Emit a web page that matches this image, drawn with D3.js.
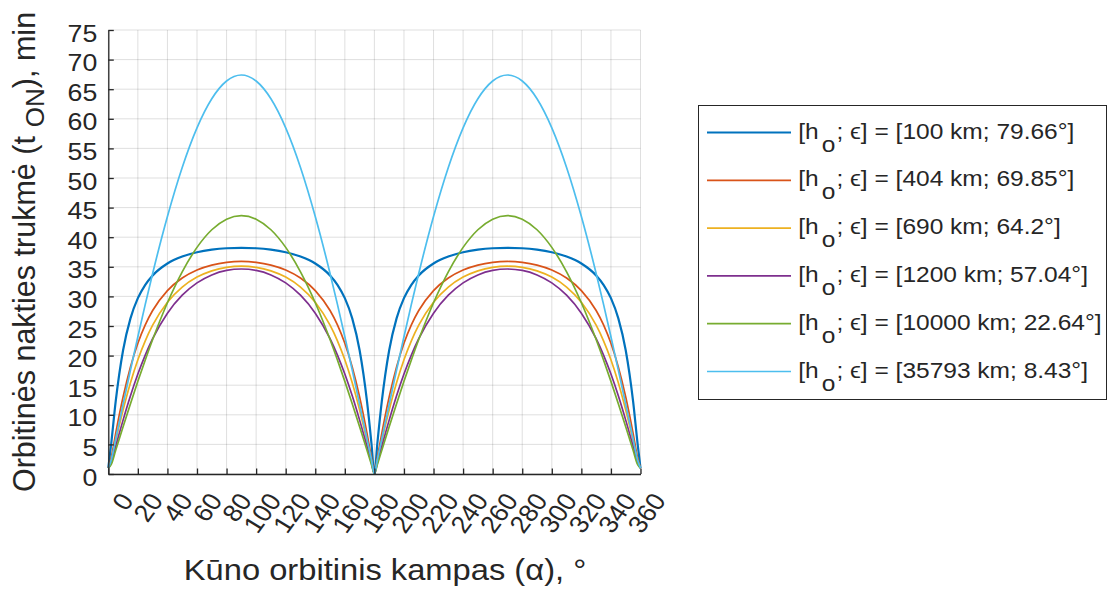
<!DOCTYPE html>
<html>
<head>
<meta charset="utf-8">
<script src="https://cdn.jsdelivr.net/npm/d3@7"></script>
<style>
  body { margin: 0; background: #fff; }
  svg { display: block; }
  text { font-family: "Liberation Sans", Arial, Helvetica, sans-serif; fill: #262626; }
</style>
</head>
<body>
<svg id="chart" width="1112" height="591"></svg>
<script>
// Orbital angle of the body, degrees
const alpha = [0, 2, 5, 10, 15, 20, 25, 30, 40, 50, 60, 70, 80, 90, 100, 110, 120, 130, 140, 150, 155, 160, 165, 170, 175, 178, 180,
  182, 185, 190, 195, 200, 205, 210, 220, 230, 240, 250, 260, 270, 280, 290, 300, 310, 320, 330, 335, 340, 345, 350, 355, 358, 360];

// Orbital night duration, minutes, one array per orbit
const night100 = [1.0, 5.19, 12.25, 20.90, 26.29, 29.70, 31.96, 33.54, 35.56, 36.73, 37.45, 37.89, 38.13, 38.20, 38.13, 37.89, 37.45, 36.73, 35.56, 33.54, 31.96, 29.70, 26.29, 20.90, 12.25, 5.19, 0,
  5.19, 12.25, 20.90, 26.29, 29.70, 31.96, 33.54, 35.56, 36.73, 37.45, 37.89, 38.13, 38.20, 38.13, 37.89, 37.45, 36.73, 35.56, 33.54, 31.96, 29.70, 26.29, 20.90, 12.25, 5.19, 1.0];
const night404 = [1.0, 2.79, 6.87, 13.01, 18.09, 22.10, 25.20, 27.61, 30.98, 33.10, 34.46, 35.29, 35.75, 35.90, 35.75, 35.29, 34.46, 33.10, 30.98, 27.61, 25.20, 22.10, 18.09, 13.01, 6.87, 2.79, 0,
  2.79, 6.87, 13.01, 18.09, 22.10, 25.20, 27.61, 30.98, 33.10, 34.46, 35.29, 35.75, 35.90, 35.75, 35.29, 34.46, 33.10, 30.98, 27.61, 25.20, 22.10, 18.09, 13.01, 6.87, 2.79, 1.0];
const night690 = [1.0, 2.26, 5.59, 10.80, 15.40, 19.29, 22.50, 25.13, 29.01, 31.57, 33.26, 34.32, 34.91, 35.10, 34.91, 34.32, 33.26, 31.57, 29.01, 25.13, 22.50, 19.29, 15.40, 10.80, 5.59, 2.26, 0,
  2.26, 5.59, 10.80, 15.40, 19.29, 22.50, 25.13, 29.01, 31.57, 33.26, 34.32, 34.91, 35.10, 34.91, 34.32, 33.26, 31.57, 29.01, 25.13, 22.50, 19.29, 15.40, 10.80, 5.59, 2.26, 1.0];
const night1200 = [1.0, 1.87, 4.65, 9.10, 13.21, 16.88, 20.09, 22.85, 27.17, 30.20, 32.28, 33.63, 34.39, 34.63, 34.39, 33.63, 32.28, 30.20, 27.17, 22.85, 20.09, 16.88, 13.21, 9.10, 4.65, 1.87, 0,
  1.87, 4.65, 9.10, 13.21, 16.88, 20.09, 22.85, 27.17, 30.20, 32.28, 33.63, 34.39, 34.63, 34.39, 33.63, 32.28, 30.20, 27.17, 22.85, 20.09, 16.88, 13.21, 9.10, 4.65, 1.87, 1.0];
const night10000 = [1.0, 1.61, 4.01, 7.98, 11.88, 15.65, 19.27, 22.71, 28.93, 34.15, 38.28, 41.26, 43.05, 43.65, 43.05, 41.26, 38.28, 34.15, 28.93, 22.71, 19.27, 15.65, 11.88, 7.98, 4.01, 1.61, 0,
  1.61, 4.01, 7.98, 11.88, 15.65, 19.27, 22.71, 28.93, 34.15, 38.28, 41.26, 43.05, 43.65, 43.05, 41.26, 38.28, 34.15, 28.93, 22.71, 19.27, 15.65, 11.88, 7.98, 4.01, 1.61, 1.0];
const night35793 = [1.0, 2.37, 5.92, 11.78, 17.56, 23.19, 28.65, 33.88, 43.50, 51.78, 58.47, 63.38, 66.38, 67.40, 66.38, 63.38, 58.47, 51.78, 43.50, 33.88, 28.65, 23.19, 17.56, 11.78, 5.92, 2.37, 0,
  2.37, 5.92, 11.78, 17.56, 23.19, 28.65, 33.88, 43.50, 51.78, 58.47, 63.38, 66.38, 67.40, 66.38, 63.38, 58.47, 51.78, 43.50, 33.88, 28.65, 23.19, 17.56, 11.78, 5.92, 2.37, 1.0];

// Legend entries: orbit altitude and shadow half-angle
const altitudes = ["100", "404", "690", "1200", "10000", "35793"];
const epsilons = ["79.66", "69.85", "64.2", "57.04", "22.64", "8.43"];

const xTicks = d3.range(0, 361, 20);
const yTicks = d3.range(0, 76, 5);

const series = [night100, night404, night690, night1200, night10000, night35793];
const colors = ["#0072BD", "#D95319", "#EDB120", "#7E2F8E", "#77AC30", "#4DBEEE"];
const widths = [2.2, 1.7, 1.7, 1.7, 1.7, 1.7];

const STRETCH = 1.09; // horizontal text scaling
const svg = d3.select("#chart");

const x = d3.scaleLinear().domain([0, 360]).range([108.3, 640.5]);
const y = d3.scaleLinear().domain([0, 75]).range([474, 30]);

// grid
const grid = svg.append("g").attr("stroke", "#262626").attr("stroke-opacity", 0.15).attr("stroke-width", 1);
grid.selectAll("line.v").data(xTicks).join("line")
  .attr("x1", d => x(d)).attr("x2", d => x(d)).attr("y1", y(0)).attr("y2", y(75));
grid.selectAll("line.h").data(yTicks).join("line")
  .attr("x1", x(0)).attr("x2", x(360)).attr("y1", d => y(d)).attr("y2", d => y(d));

// curves
const line = d3.line().x((d, i) => x(alpha[i])).y(d => y(d)).curve(d3.curveMonotoneX);
svg.append("g").selectAll("path").data(series).join("path")
  .attr("d", d => line(d))
  .attr("fill", "none")
  .attr("stroke", (d, i) => colors[i])
  .attr("stroke-width", (d, i) => widths[i])
  .attr("stroke-linejoin", "round");

// axes with inward ticks
const yAxis = svg.append("g").attr("transform", `translate(${x(0)},0)`)
  .call(d3.axisLeft(y).tickValues(yTicks).tickSizeInner(-5.5).tickSizeOuter(0).tickPadding(11));
const xAxis = svg.append("g").attr("transform", `translate(0,${y(0)})`)
  .call(d3.axisBottom(x).tickValues(xTicks).tickSizeInner(-5.5).tickSizeOuter(0));

[yAxis, xAxis].forEach(g => {
  g.attr("font-family", null).attr("font-size", null);
  g.select(".domain").attr("stroke", "#262626").attr("stroke-width", 1.3);
  g.selectAll(".tick line").attr("stroke", "#262626").attr("stroke-width", 1.3);
  g.selectAll("text").attr("fill", "#262626").style("font-size", "24.5px");
});

yAxis.selectAll(".tick text")
  .attr("x", -11 / STRETCH)
  .attr("dy", "0.45em")
  .attr("transform", `scale(${STRETCH},1)`);

xAxis.selectAll(".tick text")
  .attr("y", null).attr("x", null).attr("dy", "0.35em")
  .attr("text-anchor", "end")
  .attr("transform", `translate(18,22) scale(${STRETCH},1) rotate(-56)`);

// axis titles
const xt = svg.append("g").attr("transform", `translate(385,580) scale(${STRETCH},1)`);
xt.append("text").attr("text-anchor", "middle").style("font-size", "30px")
  .text("Kūno orbitinis kampas (α), °");

const yt = svg.append("text")
  .attr("transform", "translate(35,252) rotate(-90)")
  .attr("text-anchor", "middle")
  .style("font-size", "30.5px");
yt.append("tspan").text("Orbitinės nakties trukmė (t");
yt.append("tspan").attr("dx", 9).attr("dy", 9).style("font-size", "26px").text("ON");
yt.append("tspan").attr("dy", -9).text("), min");

// legend
const legend = svg.append("g");
legend.append("rect")
  .attr("x", 698.5).attr("y", 105.5).attr("width", 408).attr("height", 294)
  .attr("fill", "#fff").attr("stroke", "#262626").attr("stroke-width", 1);

altitudes.forEach((h, i) => {
  const cy = 132.5 + i * 47.8;
  legend.append("line")
    .attr("x1", 707).attr("x2", 791).attr("y1", cy).attr("y2", cy)
    .attr("stroke", colors[i]).attr("stroke-width", widths[i]);
  const t = legend.append("g")
    .attr("transform", `translate(798.3,${cy + 6}) scale(${STRETCH},1)`)
    .append("text").style("font-size", "22.5px");
  t.append("tspan").text("[h");
  t.append("tspan").attr("dx", 2.7).attr("dy", 13).text("o");
  t.append("tspan").attr("dx", 1).attr("dy", -13).text(`; ϵ] = [${h} km; ${epsilons[i]}°]`);
});
</script>
</body>
</html>
